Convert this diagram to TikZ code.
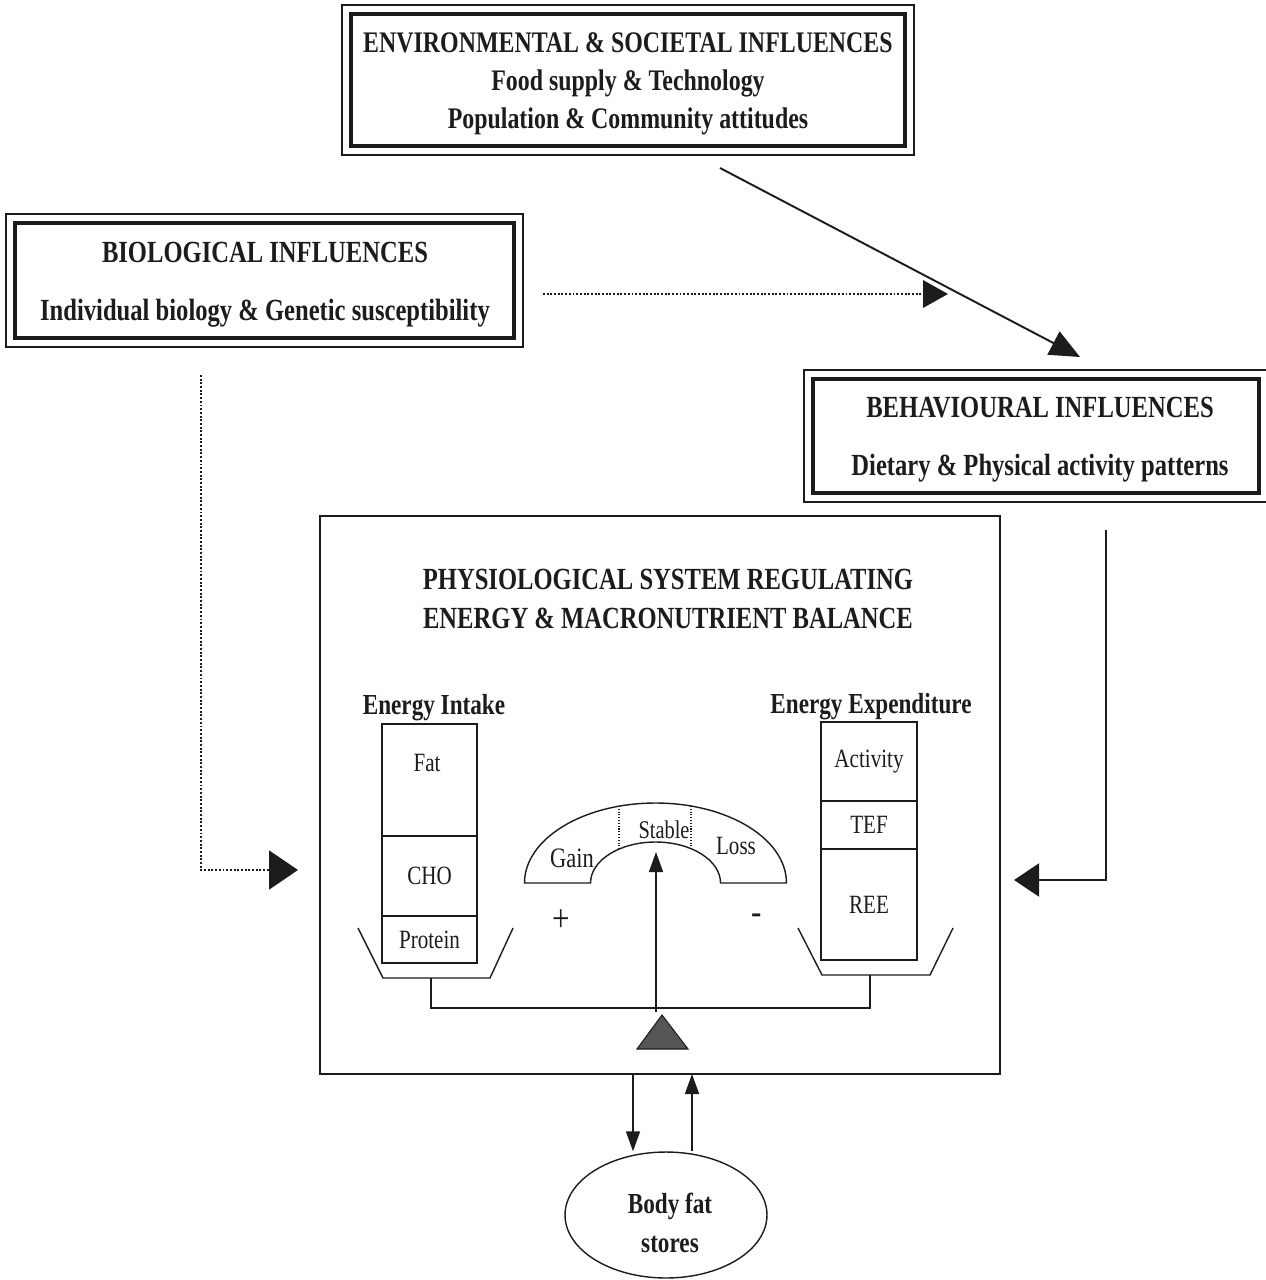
\documentclass[tikz,border=0pt]{standalone}
\usepackage{fontspec}
\setmainfont{Liberation Serif}[FakeStretch=0.8]
\usepackage{tikz}
\usetikzlibrary{arrows.meta,calc,positioning,shapes.geometric}
\definecolor{ink}{HTML}{1C1C1C}
\definecolor{pivotfill}{HTML}{555555}
\tikzset{
  frame/.style={draw=ink, line width=2.4pt, inner sep=0pt},
  outerframe/.style={draw=ink, line width=0.8pt},
  head/.style={font=\bfseries\fontsize{17.5}{21.5}\selectfont, text=ink, align=center},
  lab/.style={font=\fontsize{15}{17}\selectfont, text=ink},
  cell/.style={draw=ink, line width=0.8pt, minimum width=1.9cm, inner sep=0pt, lab},
  pan/.style={draw=ink, line width=0.8pt},
  link/.style={draw=ink, line width=1.1pt},
  dotlink/.style={link, densely dotted},
  bigtip/.style 2 args={-{Triangle[length=#1,width=#2]}},
  smalltip/.style={-{Triangle[length=0.4cm,width=0.28cm]}}
}

\begin{document}
\begin{tikzpicture}[x=0.02cm, y=-0.02cm]
  \useasboundingbox (0,0) rectangle (1266,1280);

  % influence boxes
  \node[frame, minimum width=11.08cm, minimum height=2.64cm] (env) at (628,80) {};
  \node[frame, minimum width=9.98cm, minimum height=2.3cm] (bio) at (264.5,280.5) {};
  \node[frame, minimum width=8.92cm, minimum height=2.28cm] (behav) at (1036,436) {};
  \foreach \b in {env,bio,behav}
    \draw[outerframe] ($(\b.south west)+(-7,7)$) rectangle ($(\b.north east)+(7,-7)$);

  \node[head, font=\bfseries\fontsize{17}{21.5}\selectfont] (envtext) at (628,84)
    {ENVIRONMENTAL \& SOCIETAL INFLUENCES\\ Food supply \& Technology\\ Population \& Community attitudes};
  \node[head, font=\bfseries\fontsize{17.5}{33}\selectfont] (biotext) at (265,285)
    {BIOLOGICAL INFLUENCES\\ Individual biology \& Genetic susceptibility};
  \node[head, font=\bfseries\fontsize{17.5}{33}\selectfont] (behavtext) at (1040,440)
    {BEHAVIOURAL INFLUENCES\\ Dietary \& Physical activity patterns};

  % physiological system
  \node[draw=ink, line width=0.8pt, minimum width=13.6cm, minimum height=11.16cm] (phys) at (660,795) {};
  \node[head, font=\bfseries\fontsize{17.5}{22}\selectfont] (phystitle) at (668,599)
    {PHYSIOLOGICAL SYSTEM REGULATING\\ ENERGY \& MACRONUTRIENT BALANCE};

  \node[head, font=\bfseries\fontsize{16.5}{18}\selectfont] (intake) at (434,708) {Energy Intake};
  \node[head, font=\bfseries\fontsize{16.5}{18}\selectfont] (expend) at (871,707) {Energy Expenditure};

  % intake stack
  \node[cell, minimum height=2.24cm] (fat) at (429.5,780) {};
  \node[lab] (fatlab) at (427,763) {Fat};
  \node[cell, minimum height=1.6cm] (cho) at (429.5,876) {CHO};
  \node[cell, minimum height=0.94cm] (prot) at (429.5,939.5) {Protein};

  % expenditure stack
  \node[cell, minimum width=1.92cm, minimum height=1.58cm] (act) at (869,761.5) {Activity};
  \node[cell, minimum width=1.92cm, minimum height=0.96cm] (tef) at (869,825) {TEF};
  \node[cell, minimum width=1.92cm, minimum height=2.22cm] (ree) at (869,904.5) {REE};

  % pans and beam
  \draw[pan] (358,928) -- (383,978) -- (490,978) -- (513,928);
  \draw[pan] (798,928) -- (822,975) -- (930,975) -- (953,928);
  \draw[pan] (431,978) -- (431,1008) -- (870,1008) -- (870,975);

  % gauge
  \draw[pan] (524.5,883) arc[start angle=180, end angle=0, x radius=2.62cm, y radius=1.6cm]
    -- (720.5,883) arc[start angle=0, end angle=180, x radius=1.3cm, y radius=0.82cm] -- cycle;
  \draw[ink, densely dotted, line width=0.6pt] (619,806) -- (619,849);
  \draw[ink, densely dotted, line width=0.6pt] (691,806) -- (691,849);
  \node[lab, font=\fontsize{16}{18}\selectfont] (gain) at (572,858) {Gain};
  \node[lab, font=\fontsize{14.5}{16}\selectfont] (stable) at (664,830) {Stable};
  \node[lab] (loss) at (736,846) {Loss};
  \node[lab, font=\fontsize{22}{24}\selectfont] (plus) at (561,921) {+};
  \node[lab, font=\fontsize{22}{24}\selectfont] (minus) at (757,919) {-};

  % needle and pivot
  \coordinate (pivot) at (656,1012);
  \coordinate (needle) at (656,852);
  \draw[link, line width=0.9pt, smalltip] (pivot) -- (needle);
  \fill[pivotfill, draw=ink, line width=0.6pt] (637,1049) -- (662,1015) -- (688,1049) -- cycle;

  % body fat stores
  \node[ellipse, draw=ink, line width=0.8pt, minimum width=4.04cm, minimum height=2.52cm, inner sep=0pt] (body) at (666,1215) {};
  \node[head, font=\bfseries\fontsize{16.5}{22}\selectfont] (bodytext) at (670,1223) {Body fat\\ stores};
  \coordinate (dn) at (633,1074);
  \coordinate (up) at (692,1074);
  \draw[link, line width=0.9pt, smalltip] (dn) -- (dn |- body.north);
  \draw[link, line width=0.9pt, smalltip] (up |- body.north) -- (up);

  % influence connectors
  \coordinate (envout) at (720,168);
  \coordinate (behavin) at (1080,357);
  \draw[link, bigtip={0.6cm}{0.52cm}] (envout) -- (behavin);
  \coordinate (bioout) at (543,294);
  \coordinate (biotip) at (948,294);
  \draw[dotlink, bigtip={0.5cm}{0.55cm}] (bioout) -- (biotip);
  \coordinate (biodown) at (201,375);
  \coordinate (physinL) at (298,870);
  \draw[dotlink, bigtip={0.58cm}{0.78cm}] (biodown) |- (physinL);
  \coordinate (behavdown) at (1106,530);
  \coordinate (physinR) at (1014,880);
  \draw[link, bigtip={0.5cm}{0.66cm}] (behavdown) |- (physinR);
\end{tikzpicture}
\end{document}
